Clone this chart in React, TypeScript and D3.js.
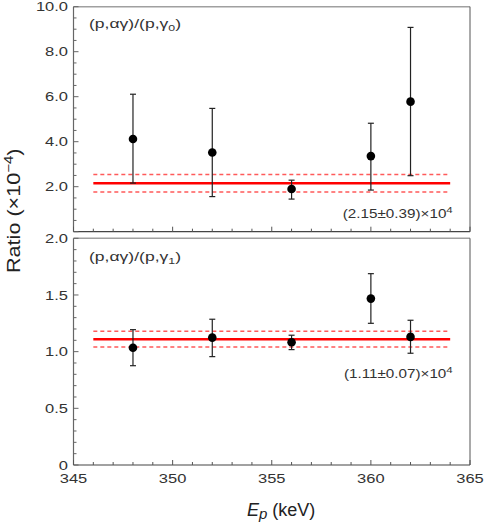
import React from "react";
import * as d3 from "d3";

const energies = [348, 352, 356, 360, 362];
const gamma0Ratio = [4.12, 3.52, 1.9, 3.36, 5.78];
const gamma0Upper = [6.11, 5.48, 2.29, 4.82, 9.08];
const gamma0Lower = [2.16, 1.56, 1.45, 1.85, 2.49];
const gamma1Ratio = [1.035, 1.124, 1.083, 1.468, 1.13];
const gamma1Upper = [1.194, 1.286, 1.145, 1.688, 1.277];
const gamma1Lower = [0.876, 0.956, 1.018, 1.25, 0.986];
const fitMean = [2.15, 1.11];
const fitErr = [0.39, 0.07];
const fitRange = [346, 364];
const xTicks = [345, 350, 355, 360, 365];
const topYTicks = [2, 4, 6, 8, 10];
const bottomYTicks = [0, 0.5, 1, 1.5, 2];

const FONT = "'Liberation Sans', Arial, Helvetica, sans-serif";
const SX = 1.27;

function SText({ x, y, anchor = "start", size = 13, rotate = 0, sx = SX, children, fill = "#333", dy }: any) {
  return (
    <g transform={`translate(${x},${y}) rotate(${rotate}) scale(${sx},1)`}>
      <text textAnchor={anchor} fontSize={size} fontFamily={FONT} fill={fill} dy={dy}>
        {children}
      </text>
    </g>
  );
}

const L = 73.5;
const R = 470;

const x = d3.scaleLinear().domain([345, 365]).range([L, R]);

function Panel({ y, yTicks, showZero, majorStep, minorStep, ratio, upper, lower, mean, err, label, sub, annot, labelY, annotY, fmt }: any) {
  const [y0, y1] = y.range();
  const top = y1;
  const bottom = y0;
  const dom = y.domain();
  const minorY = d3.range(dom[0], dom[1] + minorStep / 2, minorStep);
  const minorX = d3.range(345, 365.5, 1);
  return (
    <g>
      {/* fit lines */}
      <line x1={x(fitRange[0])} x2={x(fitRange[1])} y1={y(mean + err)} y2={y(mean + err)} stroke="#ff5a5a" strokeWidth={1.5} strokeDasharray="4,3" />
      <line x1={x(fitRange[0])} x2={x(fitRange[1])} y1={y(mean - err)} y2={y(mean - err)} stroke="#ff5a5a" strokeWidth={1.5} strokeDasharray="4,3" />
      <line x1={x(fitRange[0])} x2={x(fitRange[1])} y1={y(mean)} y2={y(mean)} stroke="#ff0000" strokeWidth={2.5} />
      {/* points */}
      {energies.map((e, i) => (
        <g key={i}>
          <line x1={x(e)} x2={x(e)} y1={y(upper[i])} y2={y(lower[i])} stroke="#222" strokeWidth={1.2} />
          <line x1={x(e) - 3} x2={x(e) + 3} y1={y(upper[i])} y2={y(upper[i])} stroke="#222" strokeWidth={1.2} />
          <line x1={x(e) - 3} x2={x(e) + 3} y1={y(lower[i])} y2={y(lower[i])} stroke="#222" strokeWidth={1.2} />
          <circle cx={x(e)} cy={y(ratio[i])} r={4.3} fill="#000" />
        </g>
      ))}
      {/* frame */}
      <line x1={L} x2={R} y1={top} y2={top} stroke="#a0a0a0" strokeWidth={1.6} />
      <line x1={R} x2={R} y1={top} y2={bottom} stroke="#555" strokeWidth={1} />
      <line x1={L} x2={L} y1={top} y2={bottom} stroke="#666" strokeWidth={1.2} />
      <line x1={L} x2={R} y1={bottom} y2={bottom} stroke="#444" strokeWidth={1.2} />
      {/* y ticks */}
      {minorY.map((v, i) => {
        const major = Math.abs(v / majorStep - Math.round(v / majorStep)) < 1e-6;
        return <line key={i} x1={L} x2={L + (major ? 5 : 3)} y1={y(v)} y2={y(v)} stroke="#666" strokeWidth={1} />;
      })}
      {/* x ticks */}
      {minorX.map((v, i) => {
        const major = v % 5 === 0;
        return <line key={i} x1={x(v)} x2={x(v)} y1={bottom} y2={bottom - (major ? 5 : 3)} stroke="#555" strokeWidth={1} />;
      })}
      {yTicks.map((v: number, i: number) =>
        v === 0 && !showZero ? null : (
          <SText key={i} x={68} y={y(v)} anchor="end" dy="0.35em">
            {fmt(v)}
          </SText>
        )
      )}
      <SText x={89} y={labelY} size={13.5} sx={1.3}>
        <tspan>(p,αγ)/(p,γ</tspan>
        <tspan dy={3} fontSize={9.5}>{sub}</tspan>
        <tspan dy={-3}>)</tspan>
      </SText>
      <SText x={452.7} y={annotY} anchor="end" size={12}>
        <tspan>{annot}</tspan>
        <tspan dy={-5} fontSize={9}>4</tspan>
      </SText>
    </g>
  );
}

export default function App() {
  const yTop = d3.scaleLinear().domain([0, 10]).range([231.7, 6.7]);
  const yBot = d3.scaleLinear().domain([0, 2]).range([465, 238.3]);
  return (
    <svg width={485} height={526} style={{ position: "absolute", left: 0, top: 0, background: "#fff" }}>
      <rect width={485} height={526} fill="#fff" />
      <Panel
        y={yTop}
        yTicks={topYTicks}
        showZero={false}
        majorStep={2}
        minorStep={0.5}
        ratio={gamma0Ratio}
        upper={gamma0Upper}
        lower={gamma0Lower}
        mean={fitMean[0]}
        err={fitErr[0]}
        sub="0"
        annot={`(${fitMean[0].toFixed(2)}±${fitErr[0].toFixed(2)})×10`}
        labelY={28}
        annotY={217.5}
        fmt={(v: number) => v.toFixed(1)}
      />
      <Panel
        y={yBot}
        yTicks={bottomYTicks}
        showZero={true}
        majorStep={0.5}
        minorStep={0.1}
        ratio={gamma1Ratio}
        upper={gamma1Upper}
        lower={gamma1Lower}
        mean={fitMean[1]}
        err={fitErr[1]}
        sub="1"
        annot={`(${fitMean[1].toFixed(2)}±${fitErr[1].toFixed(2)})×10`}
        labelY={260.5}
        annotY={378}
        fmt={(v: number) => (v === 0 ? "0" : v.toFixed(1))}
      />
      {xTicks.map((v, i) => (
        <SText key={i} x={x(v)} y={483} anchor="middle">
          {String(v)}
        </SText>
      ))}
      <g>
        <text x={247} y={516} fontSize={18} fontFamily={FONT} fill="#222">
          <tspan fontStyle="italic">E</tspan>
          <tspan fontStyle="italic" fontSize={15} dy={3}>p</tspan>
          <tspan dy={-3}> (keV)</tspan>
        </text>
      </g>
      <SText x={20} y={273} rotate={-90} size={18} sx={1.2} fill="#222">
        <tspan>Ratio (×10</tspan>
        <tspan dy={-7} fontSize={12.5}>−4</tspan>
        <tspan dy={7}>)</tspan>
      </SText>
    </svg>
  );
}
